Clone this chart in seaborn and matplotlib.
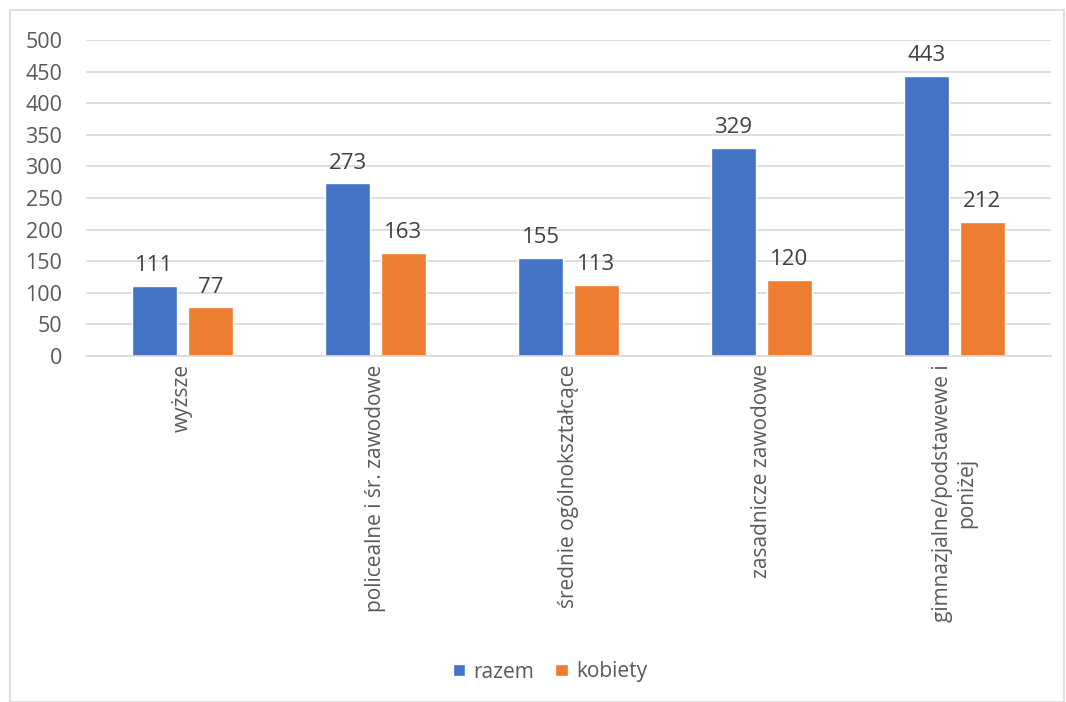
import pandas as pd
import matplotlib.pyplot as plt
import seaborn as sns
from matplotlib.patches import Rectangle

# Data
categories = ["wyższe", "policealne i śr. zawodowe", "średnie ogólnokształcące",
              "zasadnicze zawodowe", "gimnazjalne/podstawewe i\nponiżej"]
razem = [111, 273, 155, 329, 443]
kobiety = [77, 163, 113, 120, 212]
series = ["razem", "kobiety"]
yticks = [0, 50, 100, 150, 200, 250, 300, 350, 400, 450, 500]

df = pd.DataFrame({
    "kategoria": categories * 2,
    "wartosc": razem + kobiety,
    "seria": [series[0]] * len(categories) + [series[1]] * len(categories),
})

sns.set_style("white")
plt.rcParams['font.family'] = ['Open Sans', 'DejaVu Sans']
text_col = "#595959"

fig = plt.figure(figsize=(10.66, 7.02), dpi=100)
ax = fig.add_axes([86 / 1066, 1 - 356 / 702, 965 / 1066, 316 / 702])

sns.barplot(data=df, x="kategoria", y="wartosc", hue="seria",
            palette=["#4472C4", "#ED7D31"], width=0.58, gap=0.21,
            saturation=1, ax=ax, legend=True)

ax.set_ylim(0, 500)
ax.set_xlim(-0.5, len(categories) - 0.5)
ax.set_yticks(yticks)
ax.yaxis.grid(True, color="#D9D9D9", linewidth=1.2)
ax.set_axisbelow(True)
for s in ["top", "right", "left"]:
    ax.spines[s].set_visible(False)
ax.spines["bottom"].set_color("#D9D9D9")
ax.spines["bottom"].set_linewidth(1.2)
ax.tick_params(axis="y", length=0, labelsize=15.5, labelcolor=text_col, pad=17)
ax.tick_params(axis="x", length=0, labelsize=15, labelcolor=text_col, pad=6)
ax.set_xticks(range(len(categories)))
ax.set_xticklabels(categories, rotation=90, va="top", ha="center",
                   multialignment="center")
ax.set_xlabel("")
ax.set_ylabel("")

for cont in ax.containers:
    ax.bar_label(cont, padding=7, fontsize=16, color="#404040")

leg = ax.legend(loc="center", bbox_to_anchor=(550 / 1066, 1 - 672 / 702),
                bbox_transform=fig.transFigure, ncol=2, frameon=False,
                fontsize=15, handlelength=0.6, handleheight=0.5,
                handletextpad=0.4, columnspacing=1.0)
for t in leg.get_texts():
    t.set_color(text_col)

fig.patches.append(Rectangle((10 / 1066, 0), 1 - 12 / 1066, 1 - 10 / 702,
                             transform=fig.transFigure, fill=False,
                             edgecolor="#D9D9D9", linewidth=1.2))

plt.savefig("out.png", dpi=100)
